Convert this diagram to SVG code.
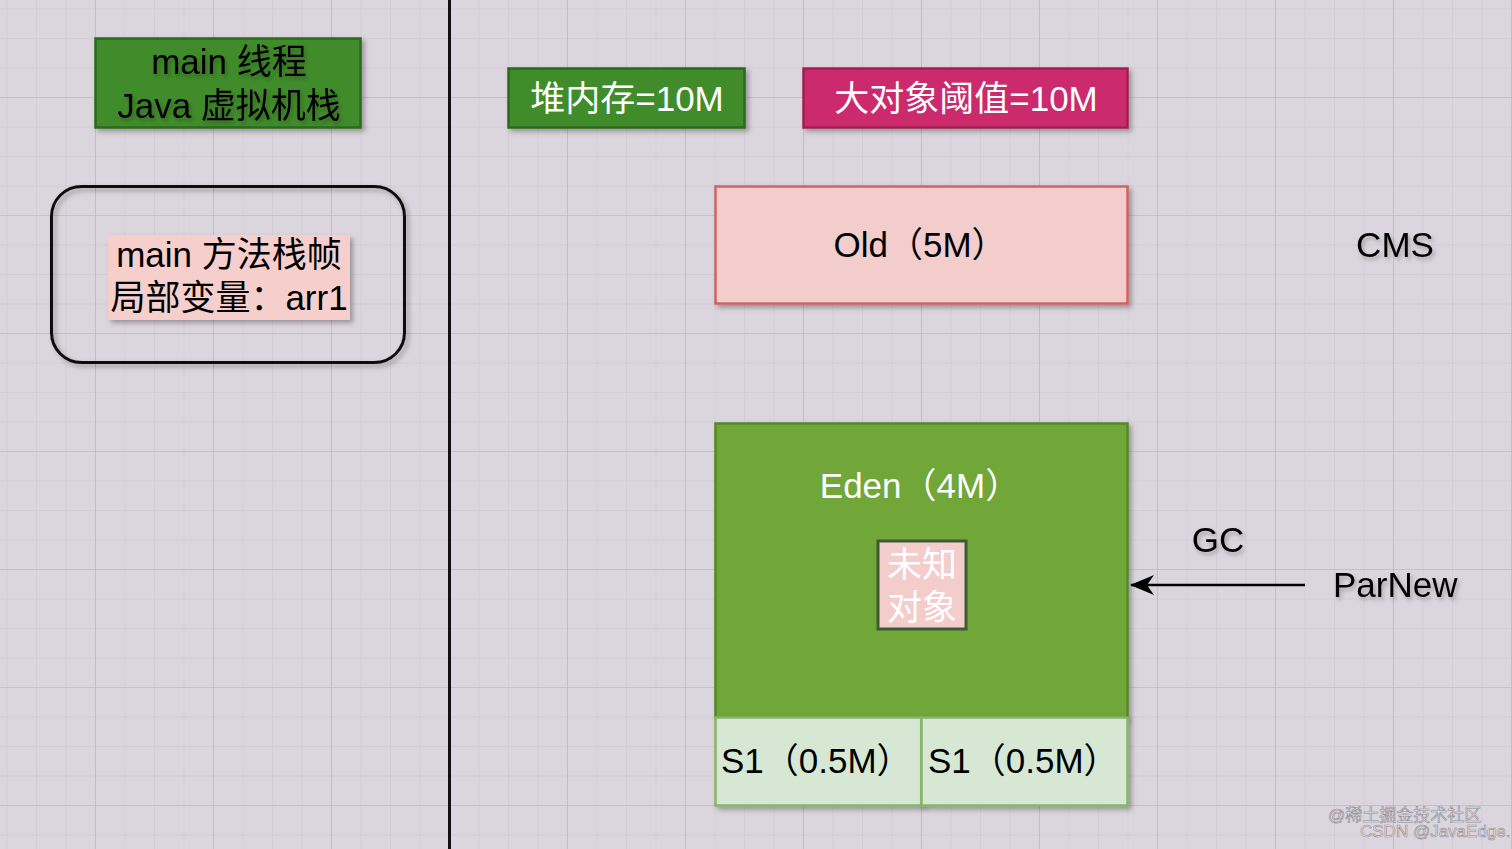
<svg xmlns="http://www.w3.org/2000/svg" width="1512" height="849" viewBox="0 0 1512 849">
<defs>
<pattern id="minor" x="6.5" y="8.5" width="29.5" height="29.5" patternUnits="userSpaceOnUse">
<path d="M0 0 H29.5 M0 0 V29.5" fill="none" stroke="#cbc6cd" stroke-width="1"/>
</pattern>
<pattern id="major" x="95" y="97" width="118" height="118" patternUnits="userSpaceOnUse">
<path d="M0 0 H118 M0 0 V118" fill="none" stroke="#b9b4bb" stroke-width="1.2"/>
</pattern>
<filter id="sh" x="-10%" y="-10%" width="125%" height="130%">
<feDropShadow dx="3" dy="3" stdDeviation="2.5" flood-color="#000" flood-opacity="0.3"/>
</filter>
<filter id="tsh" x="-10%" y="-20%" width="125%" height="150%">
<feDropShadow dx="2" dy="3" stdDeviation="2" flood-color="#000" flood-opacity="0.25"/>
</filter>
<marker id="arr" viewBox="0 0 24 20" refX="23" refY="10" markerWidth="24" markerHeight="20" markerUnits="userSpaceOnUse" orient="auto">
<path d="M24 10 L0 0 L7 10 L0 20 Z" fill="#000"/>
</marker>
</defs>
<style>
text{font-family:"Liberation Sans","Noto Sans CJK SC",sans-serif;font-size:35px;}
.c{text-anchor:middle;}
.w{fill:#ffffff;}
.k{fill:#000000;}
.wm{font-size:17px;fill:#ebe7ec;stroke:#8f8a92;stroke-width:0.6;}
</style>
<rect width="1512" height="849" fill="#dbd6dd"/>
<rect width="1512" height="849" fill="url(#minor)"/>
<rect width="1512" height="849" fill="url(#major)"/>
<line x1="449.5" y1="0" x2="449.5" y2="849" stroke="#111" stroke-width="3"/>

<g id="main-thread">
<rect x="95.5" y="38.5" width="265" height="89" fill="#3f8c2c" stroke="#2b6a1c" stroke-width="2.5" filter="url(#sh)"/>
<text class="c k" x="229" y="74" filter="url(#tsh)">main 线程</text>
<text class="c k" x="229" y="118" filter="url(#tsh)">Java 虚拟机栈</text>
</g>

<g id="main-frame">
<rect x="51.5" y="186.5" width="353" height="176" rx="30" ry="30" fill="none" stroke="#111" stroke-width="3" filter="url(#sh)"/>
<rect x="108" y="235" width="242" height="85" fill="#f6cfcd" filter="url(#sh)"/>
<text class="c k" x="229" y="267">main 方法栈帧</text>
<text class="c k" x="229" y="310">局部变量：arr1</text>
</g>

<g id="heap">
<rect x="508.5" y="68.5" width="236" height="59" fill="#3f8c2c" stroke="#2b6a1c" stroke-width="2.5" filter="url(#sh)"/>
<text class="c w" x="627" y="111">堆内存=10M</text>
</g>

<g id="threshold">
<rect x="803.5" y="68.5" width="324" height="59" fill="#cb2a6d" stroke="#a21f53" stroke-width="2.5" filter="url(#sh)"/>
<text class="c w" x="966" y="111">大对象阈值=10M</text>
</g>

<g id="old">
<rect x="715.5" y="186.5" width="412" height="117" fill="#f3cdcc" stroke="#cf6464" stroke-width="2.5" filter="url(#sh)"/>
<text class="c k" x="920" y="257">Old（5M）</text>
</g>

<g id="cms">
<text class="c k" x="1395" y="257" filter="url(#tsh)">CMS</text>
</g>

<g id="eden">
<rect x="715.5" y="423.5" width="412" height="294" fill="#71a738" stroke="#55882a" stroke-width="2.5" filter="url(#sh)"/>
<text class="c w" x="920" y="498">Eden（4M）</text>
</g>

<g id="unknown-object">
<rect x="878" y="541" width="88" height="88" fill="#f3cdcc" stroke="#3f5a35" stroke-width="3"/>
<text class="c w" x="922" y="577">未知</text>
<text class="c w" x="922" y="620">对象</text>
</g>

<g id="s1-left">
<rect x="715.5" y="717.5" width="206" height="88" fill="#d6e8d4" stroke="#86b56a" stroke-width="2.5" filter="url(#sh)"/>
<text class="k" x="721" y="773">S1（0.5M）</text>
</g>

<g id="s1-right">
<rect x="921.5" y="717.5" width="206" height="88" fill="#d6e8d4" stroke="#86b56a" stroke-width="2.5" filter="url(#sh)"/>
<text class="k" x="928" y="773">S1（0.5M）</text>
</g>

<g id="parnew">
<text class="k" x="1333" y="597" filter="url(#tsh)">ParNew</text>
</g>

<g id="connectors">
<line x1="1305" y1="585" x2="1131" y2="585" stroke="#000" stroke-width="2.5" marker-end="url(#arr)"/>
<text class="c k" x="1218" y="552" filter="url(#tsh)">GC</text>
</g>

<g id="watermark">
<text class="wm" x="1328" y="821">@稀土掘金技术社区</text>
<text class="wm" x="1360" y="837">CSDN @JavaEdge.</text>
</g>
</svg>
